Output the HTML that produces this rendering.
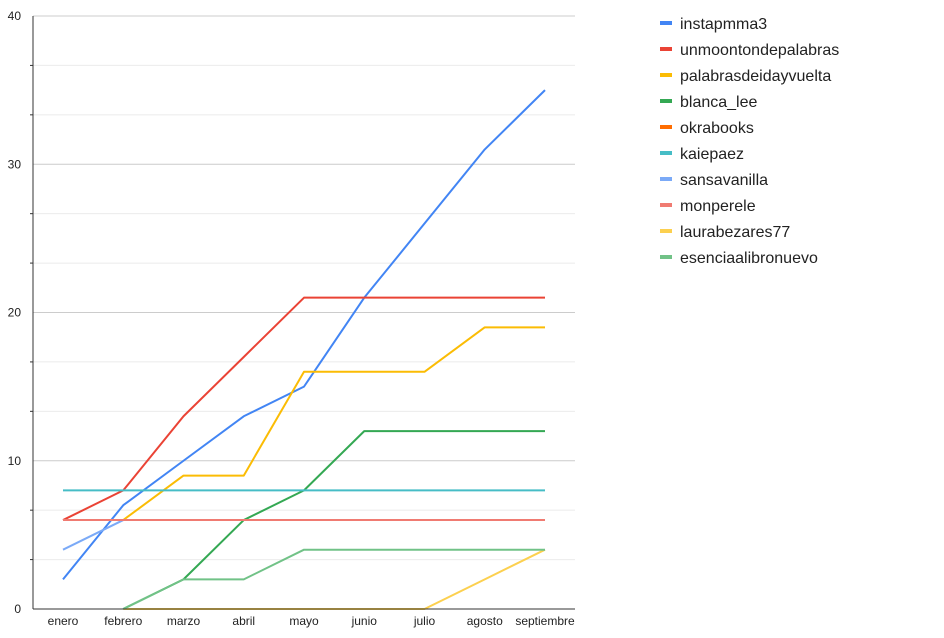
<!DOCTYPE html>
<html><head><meta charset="utf-8"><style>
body{margin:0;background:#fff;font-family:"Liberation Sans",sans-serif;}
svg text{font-family:"Liberation Sans",sans-serif;}
</style></head><body>
<svg id="chart" width="944" height="633" xmlns="http://www.w3.org/2000/svg"></svg>
<script>
const categories=["enero","febrero","marzo","abril","mayo","junio","julio","agosto","septiembre"];
const yTicks=[0,10,20,30,40];
const seriesNames=["instapmma3","unmoontondepalabras","palabrasdeidayvuelta","blanca_lee","okrabooks","kaiepaez","sansavanilla","monperele","laurabezares77","esenciaalibronuevo"];
const seriesColors=["#4285f4","#ea4335","#fbbc04","#34a853","#ff6d01","#46bdc6","#7baaf7","#f07b72","#fcd04f","#71c287"];
const s_instapmma3=[2,7,10,13,15,21,26,31,35];
const s_unmoon=[6,8,13,17,21,21,21,21,21];
const s_palabras=[6,6,9,9,16,16,16,19,19];
const s_blanca=[null,0,2,6,8,12,12,12,12];
const s_okra=[6,6,6,6,6,6,6,6,6];
const s_kaie=[8,8,8,8,8,8,8,8,8];
const s_sansa=[4,6,6,6,6,6,6,6,6];
const s_monpe=[6,6,6,6,6,6,6,6,6];
const s_laura=[null,0,0,0,0,0,0,2,4];
const s_esencia=[null,0,2,2,4,4,4,4,4];
const seriesValues=[s_instapmma3,s_unmoon,s_palabras,s_blanca,s_okra,s_kaie,s_sansa,s_monpe,s_laura,s_esencia];

const NS="http://www.w3.org/2000/svg";
const svg=document.getElementById('chart');
const L=33,R=575,T=16,B=609,yMax=40;
const y=v=>B-(v/yMax)*(B-T);
const x=i=>63+i*(545-63)/(categories.length-1);
function mk(tag,attrs){const e=document.createElementNS(NS,tag);for(const k in attrs)e.setAttribute(k,attrs[k]);svg.appendChild(e);return e;}
for(let k=0;k<=12;k++){
  const v=k*yMax/12;
  const major=(k%3===0);
  const g=mk('line',{x1:L,x2:R,y1:y(v),y2:y(v),stroke:major?'#cccccc':'#ebebeb','stroke-width':1});
  
  
  if(!major&&k<12){const t=mk('line',{x1:L-3,x2:L,y1:y(v),y2:y(v),stroke:'#333','stroke-width':1});
    
    }
}
yTicks.forEach(v=>{
  const t=mk('text',{x:21,y:y(v)+4,'text-anchor':'end','font-size':12,fill:'#222'});
  t.textContent=v;
  
  
});
categories.forEach((c,i)=>{
  const t=mk('text',{x:x(i),y:625,'text-anchor':'middle','font-size':12,fill:'#222'});
  t.textContent=c;
  
  
});
for(let s=0;s<seriesValues.length;s++){
  const vals=seriesValues[s];let d='';let pen=false;
  vals.forEach((v,i)=>{if(v===null){pen=false;return;}d+=(pen?'L':'M')+x(i)+','+y(v)+' ';pen=true;});
  const p=mk('path',{d:d,fill:'none',stroke:seriesColors[s],'stroke-width':2,'stroke-linejoin':'round'});
  
  
}
const ax=mk('line',{x1:L,x2:L,y1:T,y2:B,stroke:'#333','stroke-width':1});


const bx=mk('line',{x1:L,x2:R,y1:B,y2:B,stroke:'#333','stroke-width':1});


seriesNames.forEach((n,i)=>{
  const yy=23+i*26;
  const r=mk('rect',{x:660,y:yy-2,width:12,height:4,fill:seriesColors[i]});
  
  
  const t=mk('text',{x:680,y:yy+6,'font-size':16,fill:'#222'});
  t.textContent=n;
  
  
});
</script>
</body></html>
